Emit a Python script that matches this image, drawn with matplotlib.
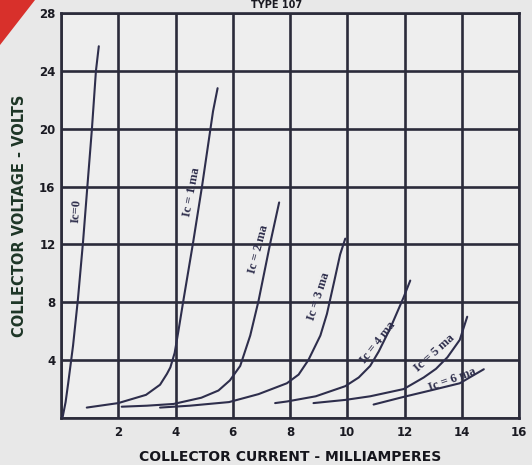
import matplotlib
matplotlib.use("Agg")
import matplotlib.pyplot as plt
from matplotlib.patches import Polygon

# curves (collector current mA, collector voltage V)
ic0_x = [0.05, 0.16, 0.25, 0.42, 0.59, 0.77, 0.92, 1.08, 1.22, 1.32]
ic0_y = [0.0, 1.1, 2.4, 5.0, 8.2, 12.2, 16.0, 20.0, 24.0, 25.7]

ic1_x = [0.9, 2.0, 2.97, 3.46, 3.7, 3.82, 3.97, 4.1, 4.27, 4.62, 4.93, 5.31, 5.47]
ic1_y = [0.72, 1.03, 1.6, 2.3, 3.05, 3.5, 4.5, 6.0, 8.07, 12.2, 16.07, 21.2, 22.8]

ic2_x = [2.12, 3.0, 3.93, 4.9, 5.5, 5.9, 6.26, 6.61, 6.9, 7.31, 7.62]
ic2_y = [0.78, 0.85, 0.97, 1.4, 1.9, 2.6, 3.6, 5.7, 8.1, 12.1, 14.9]

ic3_x = [3.46, 4.5, 5.87, 6.9, 7.89, 8.3, 8.64, 9.06, 9.29, 9.55, 9.75, 9.93]
ic3_y = [0.72, 0.85, 1.1, 1.65, 2.4, 3.0, 4.0, 5.7, 7.2, 9.5, 11.3, 12.4]

ic4_x = [7.48, 7.89, 8.9, 9.93, 10.4, 10.8, 11.1, 11.5, 11.96, 12.2]
ic4_y = [1.03, 1.14, 1.5, 2.2, 2.8, 3.6, 4.6, 6.2, 8.3, 9.5]

ic5_x = [8.82, 9.93, 10.8, 11.97, 12.67, 13.1, 13.5, 13.93, 14.19]
ic5_y = [1.03, 1.25, 1.5, 2.0, 2.8, 3.4, 4.2, 5.4, 7.0]

ic6_x = [10.92, 11.97, 12.9, 13.93, 14.3, 14.77]
ic6_y = [0.93, 1.46, 1.9, 2.4, 2.83, 3.37]

curve_labels = ["Ic=0", "Ic = 1 ma", "Ic = 2 ma", "Ic = 3 ma", "Ic = 4 ma", "Ic = 5 ma", "Ic = 6 ma"]
label_x = [0.52, 4.58, 6.89, 8.99, 11.08, 13.04, 13.67]
label_y = [14.3, 15.65, 11.7, 8.4, 5.2, 4.5, 2.67]
label_rot = [86, 79, 75, 72, 52, 42, 20]

x_ticks = [0, 2, 4, 6, 8, 10, 12, 14, 16]
x_ticklabels = ["", "2", "4", "6", "8", "10", "12", "14", "16"]
y_ticks = [0, 4, 8, 12, 16, 20, 24, 28]
y_ticklabels = ["", "4", "8", "12", "16", "20", "24", "28"]

ink = "#2b2b3a"
curve_col = "#2e2e4c"

fig = plt.figure(figsize=(5.32, 4.65), dpi=100, facecolor="#e8e8e8")
ax = fig.add_axes([0.1147, 0.1011, 0.8609, 0.871])
ax.set_facecolor("#eeeeee")

for xs, ys in [(ic0_x, ic0_y), (ic1_x, ic1_y), (ic2_x, ic2_y), (ic3_x, ic3_y),
               (ic4_x, ic4_y), (ic5_x, ic5_y), (ic6_x, ic6_y)]:
    ax.plot(xs, ys, color=curve_col, linewidth=1.5, solid_capstyle="round",
            solid_joinstyle="round", zorder=3)

for txt, lx, ly, r in zip(curve_labels, label_x, label_y, label_rot):
    ax.text(lx, ly, txt, rotation=r, ha="center", va="center", fontsize=9,
            fontweight="bold", family="Liberation Serif", color=curve_col, zorder=4)

ax.set_xlim(0, 16)
ax.set_ylim(0, 28)
ax.set_xticks(x_ticks)
ax.set_xticklabels(x_ticklabels)
ax.set_yticks(y_ticks)
ax.set_yticklabels(y_ticklabels)
ax.tick_params(length=0, labelsize=8.5, colors="#1a1a22")
ax.tick_params(axis="x", pad=6)
ax.tick_params(axis="y", pad=4)
for lab in ax.get_xticklabels() + ax.get_yticklabels():
    lab.set_fontweight("bold")

ax.grid(True, color=ink, linewidth=1.9)
for sp in ax.spines.values():
    sp.set_color(ink)
    sp.set_linewidth(1.9)

ax.set_xlabel("COLLECTOR CURRENT - MILLIAMPERES", fontsize=10, fontweight="bold",
              color="#15151c", labelpad=8)
ax.set_ylabel("COLLECTOR VOLTAGE - VOLTS", fontsize=10.5, fontweight="bold",
              color="#1d3526", labelpad=9)

# heading at the top edge and red corner of the scanned page
fig.text(0.52, 1.0, "TYPE 107", ha="center", va="top",
         fontsize=7, fontweight="bold", color="#1a1a22")
fig.patches.append(Polygon([(0, 1), (35 / 532, 1), (0, 1 - 45 / 465)], closed=True,
                           transform=fig.transFigure, facecolor="#d8302b",
                           edgecolor="none"))

fig.savefig("out.png", dpi=100, facecolor=fig.get_facecolor())
